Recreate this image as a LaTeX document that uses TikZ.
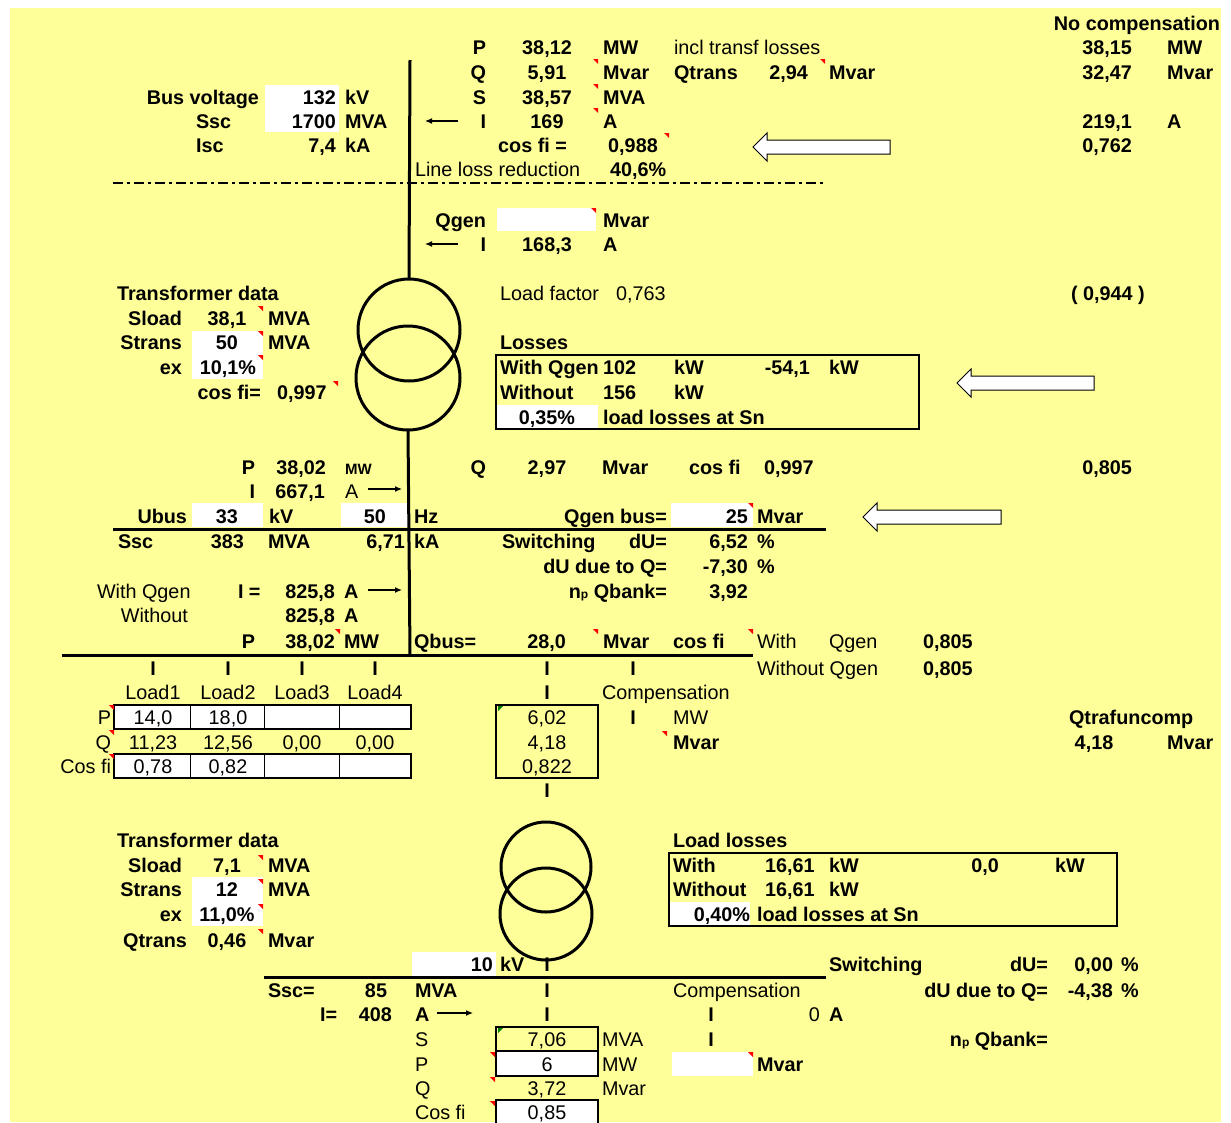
\documentclass[tikz,border=0pt]{standalone}
\usepackage{fontspec}
\setmainfont{Liberation Sans}
\usetikzlibrary{arrows.meta}

\definecolor{sheet}{RGB}{255,255,153}
\newcommand{\cellfont}{\fontsize{19.8}{23}\selectfont}

\tikzset{
  every node/.style={inner sep=0pt, outer sep=0pt},
  bl/.style={anchor=base west, font=\cellfont\bfseries},
  br/.style={anchor=base east, font=\cellfont\bfseries},
  bc/.style={anchor=base, font=\cellfont\bfseries},
  nl/.style={anchor=base west, font=\cellfont},
  nr/.style={anchor=base east, font=\cellfont},
  nc/.style={anchor=base, font=\cellfont},
  bus/.style={line width=3pt},
  frame/.style={draw, line width=2.2pt},
  grid/.style={draw, line width=1.5pt},
  winding/.style={draw, circle, line width=3pt},
  note/.style={fill=red},
  okmark/.style={fill=green!50!black},
  bigarrow/.style={draw, fill=white, line width=1pt},
  flow/.style={line width=1.2pt, -{Latex[length=7pt,width=6pt]}},
}

\begin{document}
\begin{tikzpicture}[x=1pt, y=-1pt]
        \useasboundingbox (0,0) rectangle (1231,1122);
        \fill [sheet] (10,8) rectangle (1221,1122);

        % white input cells
        \fill [white] (265,85) rectangle (339,132);
        \fill [white] (497,208) rectangle (596,231);
        \fill [white] (192,331) rectangle (263,379);
        \fill [white] (497,405) rectangle (598,429);
        \fill [white] (192,503) rectangle (263,527);
        \fill [white] (341,503) rectangle (408,527);
        \fill [white] (671,503) rectangle (753,527);
        \fill [white] (192,877) rectangle (263,926);
        \fill [white] (670,902) rectangle (750,926);
        \fill [white] (412,952) rectangle (496,976);
        \fill [white] (672,1052) rectangle (753,1076);

        % upper feeder and transformer
        \node [winding, minimum size=102pt] (tA) at (409,330) {};
        \node [winding, minimum size=104pt] (tB) at (408,378) {};
        \draw [bus] (410,60) -- (tA.north);
        \draw [bus] (tB.south) -- (410,655);
        \draw [line width=2pt, dash pattern=on 10pt off 4pt on 3pt off 4pt] (113,183) -- (826,183);
        \draw [bus] (113,529) -- (826,529);
        \draw [bus] (62,655) -- (753,655);

        % lower transformer
        \node [winding, minimum size=90pt] (tC) at (546,867) {};
        \node [winding, minimum size=92pt] (tD) at (546,914) {};
        \draw [bus] (264,977) -- (826,977);

        % boxes
        \draw [frame] (496,355) rectangle (919,429);
        \draw [frame] (669,853) rectangle (1117,926);
        \draw [grid, fill=white] (114,705) rectangle (411,729);
        \draw [grid, fill=white] (114,754) rectangle (411,778);
        \foreach \x in {190,264,339} {
            \draw [line width=1pt] (\x,705) -- (\x,729);
            \draw [line width=1pt] (\x,754) -- (\x,778);
        }
        \draw [grid] (496,705) rectangle (598,778);
        \draw [grid] (496,1027) rectangle (598,1051);
        \draw [grid, fill=white] (496,1051) rectangle (598,1076);
        \draw [grid, fill=white] (496,1123) -- (496,1100) -- (598,1100) -- (598,1123);

        % hollow arrows
        \draw [bigarrow] (753,147) -- (767,133) -- (767,140) -- (890,140) -- (890,154) -- (767,154) -- (767,161) -- cycle;
        \draw [bigarrow] (957,383) -- (971,369) -- (971,376) -- (1094,376) -- (1094,390) -- (971,390) -- (971,397) -- cycle;
        \draw [bigarrow] (863,517) -- (877,503) -- (877,510) -- (1001,510) -- (1001,524) -- (877,524) -- (877,531) -- cycle;

        % current arrows
        \draw [flow] (458,121) -- (425,121);
        \draw [flow] (458,244) -- (425,244);
        \draw [flow] (368,489) -- (402,489);
        \draw [flow] (368,590) -- (402,590);
        \draw [flow] (437,1013) -- (473,1013);

        % comment marks
        \foreach \x/\y in {598/59, 598/84, 598/108, 669/133, 825/59, 596/208, 263/306, 263/331, 263/355, 338/381,
                           753/503, 340/629, 598/629, 753/629, 114/705, 114/730, 114/754, 667/731,
                           263/855, 263/879, 263/904, 263/929, 495/1052, 495/1077, 495/1101, 753/1052}
            \fill [note] (\x,\y) -- ++(-5,0) -- ++(5,5) -- cycle;
        \foreach \x/\y in {498/706, 498/1028}
            \fill [okmark] (\x,\y) -- ++(5,0) -- ++(-5,5) -- cycle;

        % 132 kV side
        \node [br] at (1220,30) {No compensation};
        \node [br] at (486,54) {P};
        \node [bc] at (547,54) {38,12};
        \node [bl] at (603,54) {MW};
        \node [nl] at (674,54) {incl transf losses};
        \node [br] at (1132,54) {38,15};
        \node [bl] at (1167,54) {MW};
        \node [br] at (486,79) {Q};
        \node [bc] at (547,79) {5,91};
        \node [bl] at (603,79) {Mvar};
        \node [bl] at (674,79) {Qtrans};
        \node [br] at (808,79) {2,94};
        \node [bl] at (829,79) {Mvar};
        \node [br] at (1132,79) {32,47};
        \node [bl] at (1167,79) {Mvar};
        \node [br] at (259,104) {Bus voltage};
        \node [br] at (336,104) {132};
        \node [bl] at (345,104) {kV};
        \node [br] at (486,104) {S};
        \node [bc] at (547,104) {38,57};
        \node [bl] at (603,104) {MVA};
        \node [bl] at (196,128) {Ssc};
        \node [br] at (336,128) {1700};
        \node [bl] at (345,128) {MVA};
        \node [br] at (486,128) {I};
        \node [bc] at (547,128) {169};
        \node [bl] at (603,128) {A};
        \node [br] at (1132,128) {219,1};
        \node [bl] at (1167,128) {A};
        \node [bl] at (196,152) {Isc};
        \node [br] at (336,152) {7,4};
        \node [bl] at (345,152) {kA};
        \node [br] at (567,152) {cos fi =};
        \node [bc] at (633,152) {0,988};
        \node [br] at (1132,152) {0,762};
        \node [nl] at (415,176) {Line loss reduction};
        \node [bl] at (610,176) {40,6\%};

        \node [br] at (486,227) {Qgen};
        \node [bl] at (603,227) {Mvar};
        \node [br] at (486,251) {I};
        \node [bc] at (547,251) {168,3};
        \node [bl] at (603,251) {A};

        % upper transformer data
        \node [bl] at (117,300) {Transformer data};
        \node [nl] at (500,300) {Load factor};
        \node [nl] at (616,300) {0,763};
        \node [bl] at (1071,300) {( 0,944 )};
        \node [br] at (182,325) {Sload};
        \node [bc] at (227,325) {38,1};
        \node [bl] at (268,325) {MVA};
        \node [br] at (182,349) {Strans};
        \node [bc] at (227,349) {50};
        \node [bl] at (268,349) {MVA};
        \node [bl] at (500,349) {Losses};
        \node [br] at (182,374) {ex};
        \node [bc] at (228,374) {10,1\%};
        \node [bl] at (500,374) {With Qgen};
        \node [bl] at (603,374) {102};
        \node [bl] at (674,374) {kW};
        \node [br] at (810,374) {-54,1};
        \node [bl] at (829,374) {kW};
        \node [br] at (261,399) {cos fi=};
        \node [bl] at (277,399) {0,997};
        \node [bl] at (500,399) {Without};
        \node [bl] at (603,399) {156};
        \node [bl] at (674,399) {kW};
        \node [bc] at (547,424) {0,35\%};
        \node [bl] at (603,424) {load losses at Sn};

        % 33 kV bus
        \node [br] at (255,474) {P};
        \node [br] at (326,474) {38,02};
        \node [anchor=base west, font=\fontsize{15}{18}\selectfont\bfseries] at (345,474) {MW};
        \node [br] at (486,474) {Q};
        \node [bc] at (547,474) {2,97};
        \node [bl] at (602,474) {Mvar};
        \node [bl] at (689,474) {cos fi};
        \node [bl] at (764,474) {0,997};
        \node [br] at (1132,474) {0,805};
        \node [br] at (255,498) {I};
        \node [br] at (325,498) {667,1};
        \node [nl] at (345,498) {A};
        \node [br] at (187,523) {Ubus};
        \node [bc] at (227,523) {33};
        \node [bl] at (269,523) {kV};
        \node [br] at (386,523) {50};
        \node [bl] at (414,523) {Hz};
        \node [br] at (667,523) {Qgen bus=};
        \node [br] at (748,523) {25};
        \node [bl] at (757,523) {Mvar};
        \node [bl] at (118,548) {Ssc};
        \node [br] at (244,548) {383};
        \node [bl] at (268,548) {MVA};
        \node [br] at (405,548) {6,71};
        \node [bl] at (414,548) {kA};
        \node [bl] at (502,548) {Switching};
        \node [br] at (667,548) {dU=};
        \node [br] at (748,548) {6,52};
        \node [bl] at (757,548) {\%};
        \node [br] at (667,573) {dU due to Q=};
        \node [br] at (748,573) {-7,30};
        \node [bl] at (757,573) {\%};
        \node [nl] at (97,598) {With Qgen};
        \node [bl] at (238,598) {I =};
        \node [br] at (335,598) {825,8};
        \node [bl] at (344,598) {A};
        \node [br] at (667,598) {n{\fontsize{12}{12}\selectfont p} Qbank=};
        \node [br] at (748,598) {3,92};
        \node [nr] at (188,622) {Without};
        \node [br] at (335,622) {825,8};
        \node [bl] at (344,622) {A};
        \node [br] at (255,648) {P};
        \node [br] at (335,648) {38,02};
        \node [bl] at (344,648) {MW};
        \node [bl] at (414,648) {Qbus=};
        \node [br] at (566,648) {28,0};
        \node [bl] at (603,648) {Mvar};
        \node [bl] at (673,648) {cos fi};
        \node [nl] at (757,648) {With};
        \node [nl] at (829,648) {Qgen};
        \node [bl] at (923,648) {0,805};
        \node [nl] at (757,675) {Without Qgen};
        \node [bl] at (923,675) {0,805};

        % feeders
        \foreach \x in {153,228,302,375,547,633}
            \node [bc] at (\x,675) {I};
        \node [nc] at (153,699) {Load1};
        \node [nc] at (228,699) {Load2};
        \node [nc] at (302,699) {Load3};
        \node [nc] at (375,699) {Load4};
        \node [bc] at (547,699) {I};
        \node [nl] at (602,699) {Compensation};
        \node [nr] at (111,724) {P};
        \node [nc] at (153,724) {14,0};
        \node [nc] at (228,724) {18,0};
        \node [nc] at (547,724) {6,02};
        \node [bc] at (633,724) {I};
        \node [nl] at (673,724) {MW};
        \node [bl] at (1069,724) {Qtrafuncomp};
        \node [nr] at (111,749) {Q};
        \node [nc] at (153,749) {11,23};
        \node [nc] at (228,749) {12,56};
        \node [nc] at (302,749) {0,00};
        \node [nc] at (375,749) {0,00};
        \node [nc] at (547,749) {4,18};
        \node [bl] at (673,749) {Mvar};
        \node [bc] at (1094,749) {4,18};
        \node [bl] at (1167,749) {Mvar};
        \node [nr] at (111,773) {Cos fi};
        \node [nc] at (153,773) {0,78};
        \node [nc] at (228,773) {0,82};
        \node [nc] at (547,773) {0,822};
        \node [bc] at (547,797) {I};

        % lower transformer data
        \node [bl] at (117,847) {Transformer data};
        \node [bl] at (673,847) {Load losses};
        \node [br] at (182,872) {Sload};
        \node [bc] at (227,872) {7,1};
        \node [bl] at (268,872) {MVA};
        \node [bl] at (673,872) {With};
        \node [bl] at (765,872) {16,61};
        \node [bl] at (829,872) {kW};
        \node [bc] at (985,872) {0,0};
        \node [bl] at (1055,872) {kW};
        \node [br] at (182,896) {Strans};
        \node [bc] at (227,896) {12};
        \node [bl] at (268,896) {MVA};
        \node [bl] at (673,896) {Without};
        \node [bl] at (765,896) {16,61};
        \node [bl] at (829,896) {kW};
        \node [br] at (182,921) {ex};
        \node [bc] at (227,921) {11,0\%};
        \node [br] at (750,921) {0,40\%};
        \node [bl] at (757,921) {load losses at Sn};
        \node [br] at (187,947) {Qtrans};
        \node [bc] at (227,947) {0,46};
        \node [bl] at (268,947) {Mvar};

        % 10 kV bus
        \node [br] at (493,971) {10};
        \node [bl] at (500,971) {kV};
        \node [bc] at (547,971) {I};
        \node [bl] at (829,971) {Switching};
        \node [br] at (1048,971) {dU=};
        \node [br] at (1113,971) {0,00};
        \node [bl] at (1121,971) {\%};
        \node [bl] at (268,997) {Ssc=};
        \node [bc] at (376,997) {85};
        \node [bl] at (415,997) {MVA};
        \node [bc] at (547,997) {I};
        \node [nl] at (673,997) {Compensation};
        \node [br] at (1048,997) {dU due to Q=};
        \node [br] at (1113,997) {-4,38};
        \node [bl] at (1121,997) {\%};
        \node [bl] at (320,1021) {I=};
        \node [br] at (392,1021) {408};
        \node [bl] at (415,1021) {A};
        \node [bc] at (547,1021) {I};
        \node [bc] at (711,1021) {I};
        \node [nr] at (820,1021) {0};
        \node [bl] at (829,1021) {A};
        \node [nl] at (415,1046) {S};
        \node [nc] at (547,1046) {7,06};
        \node [nl] at (602,1046) {MVA};
        \node [bc] at (711,1046) {I};
        \node [br] at (1048,1046) {n{\fontsize{12}{12}\selectfont p} Qbank=};
        \node [nl] at (415,1071) {P};
        \node [nc] at (547,1071) {6};
        \node [nl] at (602,1071) {MW};
        \node [bl] at (757,1071) {Mvar};
        \node [nl] at (415,1095) {Q};
        \node [nc] at (547,1095) {3,72};
        \node [nl] at (602,1095) {Mvar};
        \node [nl] at (415,1119) {Cos fi};
        \node [nc] at (547,1119) {0,85};
\end{tikzpicture}
\end{document}
